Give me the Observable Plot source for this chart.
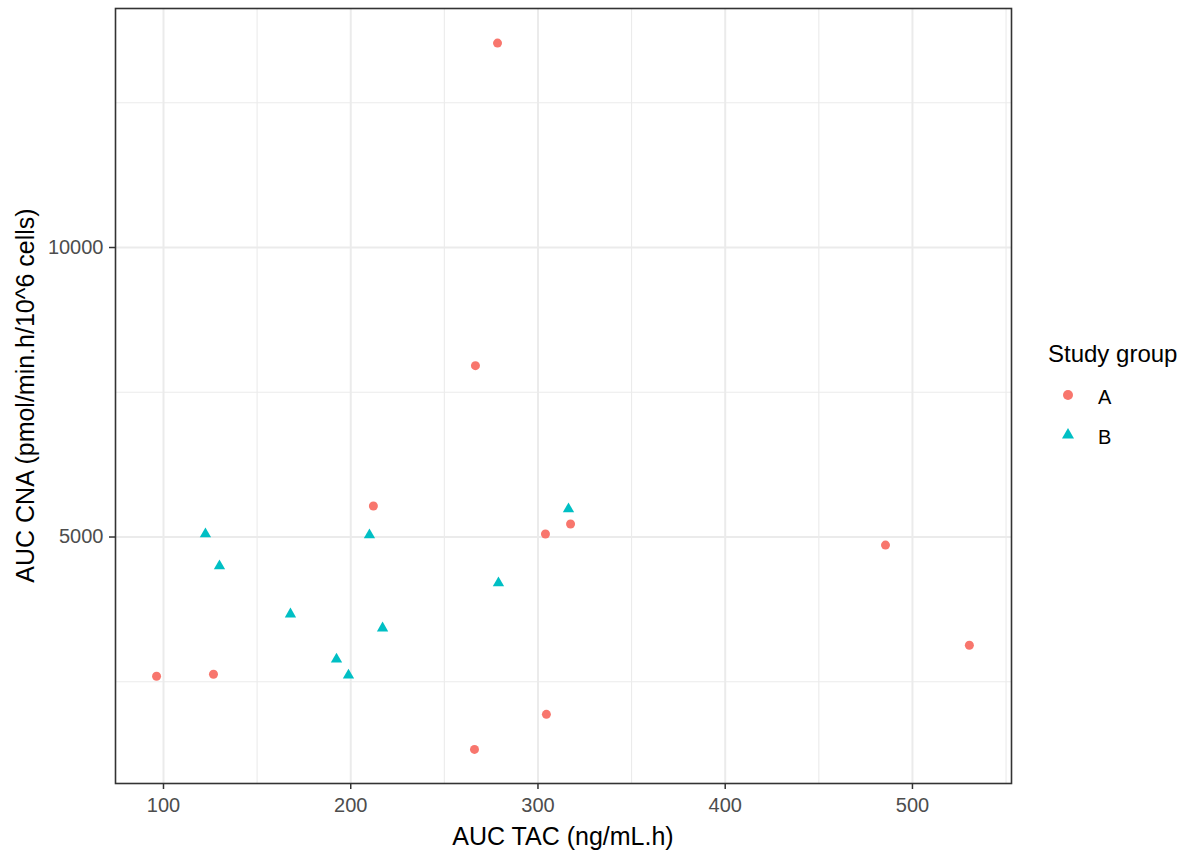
<!DOCTYPE html>
<html><head><meta charset="utf-8">
<script src="https://cdn.jsdelivr.net/npm/d3@7"></script>
<script src="https://cdn.jsdelivr.net/npm/@observablehq/plot@0.6"></script>
<style>
body{margin:0;background:#fff;font-family:"Liberation Sans",Arial,sans-serif;}
</style></head><body>
<div id="chart"></div>
<script>
const groups = ["A","B"];
const colors = ["#F8766D","#00BFC4"];
const aucTacA = [278.4, 266.6, 212.1, 304.0, 317.4, 485.6, 530.4, 96.3, 126.7, 304.5, 266.1];
const aucCnaA = [13530, 7960, 5536, 5052, 5225, 4860, 3130, 2595, 2630, 1938, 1332];
const aucTacB = [122.4, 129.9, 167.8, 192.4, 198.8, 210.0, 217.0, 278.9, 316.3];
const aucCnaB = [5052, 4498, 3668, 2889, 2612, 5035, 3426, 4204, 5484];
const xTicks = [100,200,300,400,500];
const xMinor = [150,250,350,450,550];
const yTicks = [5000,10000];
const yMinor = [2500,7500,12500];

const dataA = aucTacA.map((x,i)=>({x, y:aucCnaA[i], g:"A"}));
const dataB = aucTacB.map((x,i)=>({x, y:aucCnaB[i], g:"B"}));

const chart = Plot.plot({
  width:1194, height:859,
  marginLeft:115, marginRight:183, marginTop:8, marginBottom:76,
  style:{fontFamily:"Liberation Sans, Arial, sans-serif", fontSize:"20px", background:"#fff", overflow:"visible"},
  x:{domain:[74.37,552.9], label:null},
  y:{domain:[743,14128], label:null},
  color:{domain:groups, range:colors},
  marks:[
    Plot.ruleX(xMinor,{stroke:"#EBEBEB",strokeWidth:1.1}),
    Plot.ruleY(yMinor,{stroke:"#EBEBEB",strokeWidth:1.1}),
    Plot.ruleX(xTicks,{stroke:"#EBEBEB",strokeWidth:2}),
    Plot.ruleY(yTicks,{stroke:"#EBEBEB",strokeWidth:2}),
    Plot.axisX({ticks:xTicks, tickSize:6, tickPadding:8, stroke:"#333", fill:"#4D4D4D", label:null, strokeWidth:1.5}),
    Plot.axisY({ticks:yTicks, tickSize:6, tickPadding:6, stroke:"#333", fill:"#4D4D4D", label:null, tickFormat:d=>String(d), strokeWidth:1.5}),
    Plot.dot(dataA,{x:"x", y:"y", fill:"g", symbol:"circle", r:4.5}),
    Plot.dot(dataB,{x:"x", y:"y", fill:"g", symbol:"triangle", r:4.2}),
    Plot.frame({stroke:"#333", strokeWidth:1.6})
  ]
});
document.getElementById("chart").append(chart);

const svg = d3.select(chart);
svg.append("text").attr("x",(115+1011)/2).attr("y",845).attr("text-anchor","middle")
  .attr("font-size",25).attr("fill","#000").text("AUC TAC (ng/mL.h)");
svg.append("text").attr("transform",`translate(34,${(8+783)/2}) rotate(-90)`).attr("text-anchor","middle")
  .attr("font-size",25).attr("fill","#000").text("AUC CNA (pmol/min.h/10^6 cells)");

// legend
const lg = svg.append("g").attr("text-anchor","start");
lg.append("text").attr("x",1048).attr("y",362).attr("text-anchor","start").attr("font-size",24).attr("fill","#000").text("Study group");
const legendSyms = [d3.symbolCircle, d3.symbolTriangle];
const legendSizes = [Math.PI*25, Math.PI*20];
groups.forEach((g,i)=>{
  const cy = 395 + i*40;
  lg.append("path").attr("d",d3.symbol().type(legendSyms[i]).size(legendSizes[i])())
    .attr("transform",`translate(1068,${cy})`).attr("fill",colors[i]);
  lg.append("text").attr("x",1098).attr("y",cy+9).attr("text-anchor","start").attr("font-size",20).attr("fill","#000").text(g);
});
</script>
</body></html>
